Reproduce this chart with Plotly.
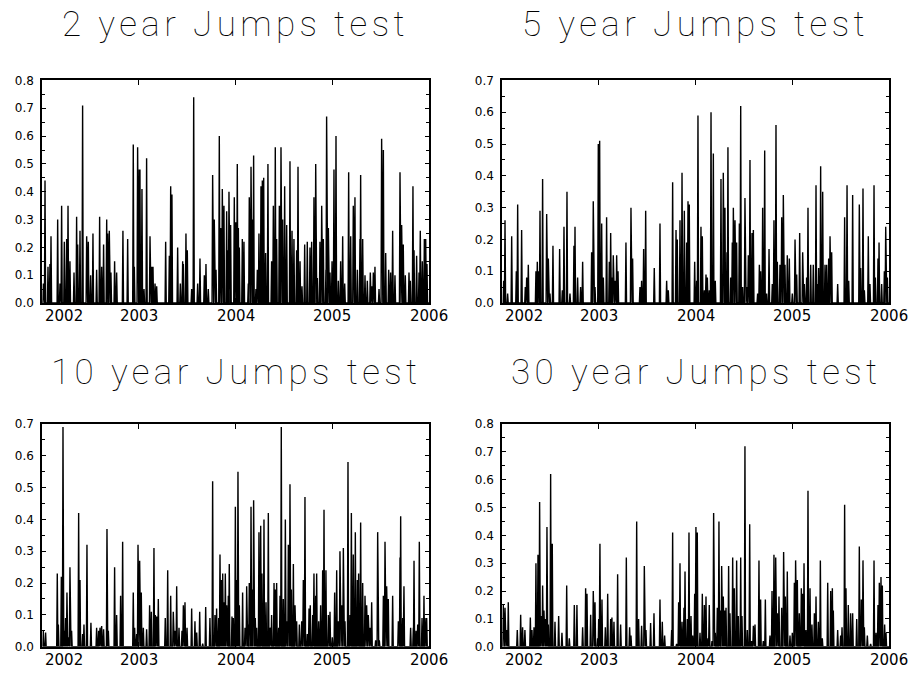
import plotly.graph_objects as go

# ---------------- data (decimal years, jump statistic) ----------------
titles = ["2 year Jumps test", "5 year Jumps test", "10 year Jumps test", "30 year Jumps test"]
y_max = [0.8, 0.7, 0.7, 0.8]
years = [2002, 2003, 2004, 2005, 2006]
year_labels = ["2002", "2003", "2004", "2005", "2006"]

t_2y = [2002.010, 2002.028, 2002.059, 2002.079, 2002.090, 2002.159, 2002.183, 2002.200, 2002.228, 2002.252,
        2002.266, 2002.286, 2002.328, 2002.355, 2002.366, 2002.390, 2002.417, 2002.459, 2002.476, 2002.500,
        2002.524, 2002.562, 2002.593, 2002.614, 2002.634, 2002.666, 2002.676, 2002.693, 2002.710, 2002.748,
        2002.769, 2002.834, 2002.883, 2002.941, 2002.952, 2002.986, 2003.003, 2003.010, 2003.031, 2003.052,
        2003.079, 2003.114, 2003.131, 2003.145, 2003.166, 2003.183, 2003.276, 2003.314, 2003.328, 2003.341,
        2003.400, 2003.428, 2003.452, 2003.459, 2003.486, 2003.500, 2003.545, 2003.566, 2003.607, 2003.631,
        2003.676, 2003.693, 2003.717, 2003.762, 2003.779, 2003.797, 2003.831, 2003.845, 2003.862, 2003.879,
        2003.907, 2003.921, 2003.931, 2003.948, 2003.986, 2004.000, 2004.017, 2004.028, 2004.038, 2004.069,
        2004.086, 2004.131, 2004.141, 2004.159, 2004.176, 2004.186, 2004.210, 2004.224, 2004.241, 2004.262,
        2004.276, 2004.290, 2004.310, 2004.334, 2004.372, 2004.390, 2004.410, 2004.424, 2004.452, 2004.469,
        2004.486, 2004.507, 2004.528, 2004.562, 2004.583, 2004.603, 2004.631, 2004.645, 2004.666, 2004.686,
        2004.714, 2004.741, 2004.769, 2004.786, 2004.810, 2004.828, 2004.845, 2004.872, 2004.890, 2004.907,
        2004.934, 2004.941, 2004.959, 2004.976, 2004.997, 2005.017, 2005.038, 2005.062, 2005.086, 2005.107,
        2005.128, 2005.169, 2005.190, 2005.217, 2005.234, 2005.259, 2005.286, 2005.293, 2005.314, 2005.338,
        2005.362, 2005.393, 2005.407, 2005.424, 2005.441, 2005.483, 2005.510, 2005.528, 2005.552, 2005.583,
        2005.603, 2005.624, 2005.648, 2005.700, 2005.717, 2005.734, 2005.755, 2005.793, 2005.807, 2005.834,
        2005.845, 2005.872, 2005.897, 2005.910, 2005.931, 2005.952, 2005.966, 2005.979]
v_2y = [0.07, 0.44, 0.13, 0.14, 0.24, 0.30, 0.07, 0.35, 0.22, 0.23,
        0.35, 0.15, 0.11, 0.31, 0.21, 0.26, 0.71, 0.24, 0.22, 0.10,
        0.25, 0.12, 0.31, 0.13, 0.21, 0.30, 0.25, 0.26, 0.11, 0.15,
        0.11, 0.26, 0.23, 0.57, 0.13, 0.56, 0.48, 0.48, 0.41, 0.05,
        0.52, 0.24, 0.13, 0.13, 0.07, 0.06, 0.22, 0.17, 0.42, 0.39,
        0.20, 0.07, 0.15, 0.14, 0.25, 0.19, 0.05, 0.74, 0.07, 0.16,
        0.10, 0.14, 0.05, 0.46, 0.30, 0.12, 0.60, 0.27, 0.41, 0.35,
        0.33, 0.19, 0.40, 0.28, 0.38, 0.29, 0.50, 0.27, 0.20, 0.23,
        0.22, 0.07, 0.38, 0.49, 0.30, 0.53, 0.05, 0.12, 0.25, 0.42,
        0.44, 0.45, 0.18, 0.50, 0.15, 0.35, 0.56, 0.23, 0.35, 0.56,
        0.30, 0.42, 0.28, 0.51, 0.26, 0.23, 0.19, 0.49, 0.15, 0.06,
        0.21, 0.22, 0.20, 0.22, 0.38, 0.50, 0.09, 0.22, 0.35, 0.23,
        0.12, 0.67, 0.27, 0.11, 0.15, 0.48, 0.60, 0.08, 0.15, 0.24,
        0.07, 0.47, 0.24, 0.35, 0.38, 0.12, 0.23, 0.46, 0.23, 0.10,
        0.08, 0.11, 0.06, 0.11, 0.13, 0.05, 0.59, 0.55, 0.18, 0.12,
        0.11, 0.26, 0.10, 0.47, 0.28, 0.21, 0.10, 0.11, 0.08, 0.42,
        0.19, 0.17, 0.11, 0.26, 0.15, 0.23, 0.23, 0.14]

t_5y = [2002.014, 2002.028, 2002.055, 2002.097, 2002.145, 2002.159, 2002.200, 2002.238, 2002.252, 2002.269,
        2002.348, 2002.362, 2002.372, 2002.390, 2002.417, 2002.459, 2002.476, 2002.493, 2002.524, 2002.593,
        2002.621, 2002.638, 2002.669, 2002.700, 2002.741, 2002.752, 2002.779, 2002.810, 2002.831, 2002.924,
        2002.941, 2002.959, 2002.993, 2003.007, 2003.028, 2003.045, 2003.079, 2003.107, 2003.121, 2003.134,
        2003.148, 2003.166, 2003.183, 2003.197, 2003.279, 2003.331, 2003.348, 2003.424, 2003.441, 2003.462,
        2003.483, 2003.572, 2003.631, 2003.700, 2003.717, 2003.762, 2003.797, 2003.810, 2003.838, 2003.859,
        2003.872, 2003.883, 2003.907, 2003.921, 2003.934, 2003.990, 2004.010, 2004.024, 2004.055, 2004.069,
        2004.090, 2004.107, 2004.121, 2004.141, 2004.159, 2004.183, 2004.203, 2004.262, 2004.286, 2004.303,
        2004.324, 2004.334, 2004.362, 2004.379, 2004.390, 2004.407, 2004.424, 2004.452, 2004.466, 2004.486,
        2004.510, 2004.528, 2004.545, 2004.562, 2004.583, 2004.597, 2004.641, 2004.659, 2004.672, 2004.693,
        2004.714, 2004.734, 2004.759, 2004.793, 2004.810, 2004.831, 2004.845, 2004.872, 2004.890, 2004.907,
        2004.924, 2004.948, 2004.969, 2005.000, 2005.028, 2005.045, 2005.076, 2005.107, 2005.124, 2005.148,
        2005.162, 2005.190, 2005.217, 2005.245, 2005.259, 2005.272, 2005.293, 2005.314, 2005.338, 2005.355,
        2005.376, 2005.390, 2005.407, 2005.469, 2005.541, 2005.566, 2005.583, 2005.624, 2005.693, 2005.707,
        2005.731, 2005.745, 2005.786, 2005.803, 2005.845, 2005.859, 2005.886, 2005.897, 2005.924, 2005.952,
        2005.966, 2005.983]
v_5y = [0.07, 0.26, 0.03, 0.21, 0.10, 0.31, 0.23, 0.05, 0.08, 0.12,
        0.10, 0.13, 0.10, 0.29, 0.39, 0.28, 0.14, 0.03, 0.18, 0.17,
        0.04, 0.24, 0.35, 0.03, 0.18, 0.24, 0.08, 0.05, 0.13, 0.16,
        0.32, 0.05, 0.50, 0.51, 0.25, 0.08, 0.27, 0.13, 0.22, 0.08,
        0.15, 0.07, 0.15, 0.10, 0.19, 0.30, 0.14, 0.05, 0.07, 0.17,
        0.29, 0.11, 0.25, 0.07, 0.04, 0.38, 0.23, 0.20, 0.26, 0.41,
        0.08, 0.29, 0.19, 0.32, 0.31, 0.13, 0.07, 0.59, 0.24, 0.21,
        0.04, 0.09, 0.08, 0.04, 0.60, 0.47, 0.07, 0.39, 0.41, 0.30,
        0.16, 0.49, 0.08, 0.19, 0.30, 0.26, 0.19, 0.25, 0.62, 0.05,
        0.33, 0.05, 0.15, 0.45, 0.22, 0.23, 0.03, 0.12, 0.10, 0.30,
        0.48, 0.03, 0.17, 0.06, 0.26, 0.56, 0.13, 0.12, 0.27, 0.34,
        0.12, 0.15, 0.14, 0.03, 0.20, 0.09, 0.22, 0.16, 0.06, 0.08,
        0.30, 0.12, 0.12, 0.37, 0.06, 0.11, 0.43, 0.35, 0.12, 0.12,
        0.14, 0.21, 0.16, 0.06, 0.27, 0.37, 0.07, 0.34, 0.31, 0.11,
        0.36, 0.04, 0.21, 0.06, 0.37, 0.08, 0.14, 0.19, 0.06, 0.10,
        0.24, 0.08]

t_10y = [2002.010, 2002.034, 2002.155, 2002.166, 2002.197, 2002.214, 2002.228, 2002.241, 2002.255, 2002.269,
         2002.286, 2002.303, 2002.376, 2002.390, 2002.417, 2002.431, 2002.462, 2002.503, 2002.562, 2002.583,
         2002.597, 2002.614, 2002.634, 2002.669, 2002.683, 2002.748, 2002.769, 2002.810, 2002.831, 2002.941,
         2002.955, 2002.976, 2002.990, 2003.007, 2003.024, 2003.045, 2003.079, 2003.110, 2003.128, 2003.155,
         2003.169, 2003.183, 2003.200, 2003.272, 2003.297, 2003.328, 2003.355, 2003.372, 2003.390, 2003.414,
         2003.445, 2003.459, 2003.476, 2003.497, 2003.545, 2003.579, 2003.597, 2003.628, 2003.659, 2003.690,
         2003.734, 2003.762, 2003.786, 2003.803, 2003.824, 2003.838, 2003.852, 2003.866, 2003.879, 2003.893,
         2003.907, 2003.924, 2003.934, 2003.962, 2003.976, 2003.997, 2004.007, 2004.024, 2004.038, 2004.072,
         2004.097, 2004.114, 2004.131, 2004.141, 2004.159, 2004.172, 2004.186, 2004.203, 2004.217, 2004.241,
         2004.259, 2004.272, 2004.293, 2004.314, 2004.338, 2004.355, 2004.372, 2004.397, 2004.410, 2004.424,
         2004.445, 2004.459, 2004.472, 2004.493, 2004.514, 2004.528, 2004.545, 2004.562, 2004.576, 2004.597,
         2004.614, 2004.631, 2004.659, 2004.683, 2004.700, 2004.717, 2004.741, 2004.759, 2004.772, 2004.797,
         2004.810, 2004.828, 2004.838, 2004.859, 2004.879, 2004.900, 2004.914, 2004.934, 2004.959, 2004.976,
         2005.000, 2005.024, 2005.045, 2005.062, 2005.079, 2005.097, 2005.114, 2005.131, 2005.162, 2005.183,
         2005.197, 2005.217, 2005.238, 2005.259, 2005.272, 2005.293, 2005.314, 2005.338, 2005.355, 2005.372,
         2005.390, 2005.407, 2005.448, 2005.469, 2005.486, 2005.528, 2005.545, 2005.562, 2005.579, 2005.624,
         2005.683, 2005.700, 2005.707, 2005.728, 2005.741, 2005.810, 2005.838, 2005.845, 2005.866, 2005.883,
         2005.900, 2005.928, 2005.948, 2005.959, 2005.976]
v_10y = [0.05, 0.045, 0.23, 0.07, 0.22, 0.69, 0.05, 0.09, 0.17, 0.03,
         0.25, 0.05, 0.42, 0.21, 0.04, 0.07, 0.32, 0.075, 0.06, 0.05,
         0.06, 0.065, 0.055, 0.37, 0.05, 0.25, 0.10, 0.16, 0.33, 0.17,
         0.06, 0.04, 0.32, 0.27, 0.17, 0.06, 0.055, 0.13, 0.11, 0.31,
         0.10, 0.095, 0.15, 0.09, 0.24, 0.16, 0.11, 0.05, 0.19, 0.06,
         0.05, 0.13, 0.14, 0.06, 0.12, 0.08, 0.045, 0.11, 0.01, 0.125,
         0.09, 0.52, 0.10, 0.12, 0.09, 0.29, 0.21, 0.23, 0.14, 0.23,
         0.13, 0.16, 0.26, 0.095, 0.09, 0.44, 0.21, 0.55, 0.13, 0.17,
         0.06, 0.19, 0.07, 0.20, 0.44, 0.18, 0.46, 0.09, 0.06, 0.36,
         0.38, 0.23, 0.40, 0.14, 0.42, 0.06, 0.10, 0.20, 0.18, 0.20,
         0.06, 0.16, 0.69, 0.15, 0.40, 0.08, 0.32, 0.51, 0.18, 0.26,
         0.13, 0.08, 0.07, 0.08, 0.21, 0.47, 0.04, 0.12, 0.13, 0.10,
         0.23, 0.16, 0.23, 0.08, 0.13, 0.24, 0.43, 0.24, 0.10, 0.11,
         0.03, 0.17, 0.24, 0.08, 0.30, 0.13, 0.31, 0.08, 0.58, 0.10,
         0.42, 0.29, 0.36, 0.21, 0.23, 0.39, 0.20, 0.16, 0.13, 0.10,
         0.06, 0.14, 0.02, 0.36, 0.02, 0.16, 0.33, 0.19, 0.15, 0.16,
         0.08, 0.28, 0.41, 0.09, 0.19, 0.06, 0.06, 0.27, 0.05, 0.07,
         0.33, 0.09, 0.16, 0.09, 0.09]

t_30y = [2002.010, 2002.028, 2002.045, 2002.062, 2002.155, 2002.190, 2002.210, 2002.234, 2002.290, 2002.307,
         2002.328, 2002.348, 2002.369, 2002.386, 2002.400, 2002.417, 2002.431, 2002.448, 2002.462, 2002.476,
         2002.500, 2002.517, 2002.545, 2002.583, 2002.617, 2002.666, 2002.693, 2002.745, 2002.772, 2002.831,
         2002.862, 2002.876, 2002.914, 2002.941, 2002.959, 2002.986, 2002.997, 2003.010, 2003.031, 2003.066,
         2003.090, 2003.121, 2003.134, 2003.155, 2003.193, 2003.224, 2003.283, 2003.317, 2003.331, 2003.390,
         2003.410, 2003.441, 2003.469, 2003.486, 2003.534, 2003.569, 2003.631, 2003.655, 2003.679, 2003.752,
         2003.762, 2003.803, 2003.824, 2003.838, 2003.859, 2003.879, 2003.890, 2003.914, 2003.931, 2003.952,
         2003.969, 2003.990, 2004.003, 2004.017, 2004.045, 2004.069, 2004.090, 2004.107, 2004.128, 2004.141,
         2004.169, 2004.186, 2004.203, 2004.224, 2004.241, 2004.252, 2004.269, 2004.286, 2004.300, 2004.314,
         2004.341, 2004.355, 2004.383, 2004.400, 2004.424, 2004.441, 2004.466, 2004.479, 2004.510, 2004.534,
         2004.559, 2004.579, 2004.597, 2004.614, 2004.655, 2004.672, 2004.700, 2004.721, 2004.769, 2004.790,
         2004.810, 2004.828, 2004.845, 2004.862, 2004.890, 2004.910, 2004.928, 2004.948, 2004.976, 2005.000,
         2005.021, 2005.034, 2005.052, 2005.072, 2005.093, 2005.107, 2005.121, 2005.141, 2005.162, 2005.183,
         2005.203, 2005.228, 2005.245, 2005.269, 2005.290, 2005.310, 2005.366, 2005.397, 2005.414, 2005.424,
         2005.469, 2005.500, 2005.514, 2005.541, 2005.555, 2005.579, 2005.603, 2005.624, 2005.666, 2005.693,
         2005.714, 2005.731, 2005.745, 2005.776, 2005.810, 2005.845, 2005.866, 2005.886, 2005.900, 2005.917,
         2005.931, 2005.955, 2005.969]
v_30y = [0.15, 0.14, 0.06, 0.16, 0.06, 0.115, 0.07, 0.06, 0.105, 0.06,
         0.07, 0.30, 0.33, 0.52, 0.11, 0.22, 0.13, 0.10, 0.43, 0.08,
         0.62, 0.37, 0.09, 0.11, 0.05, 0.22, 0.03, 0.15, 0.15, 0.07,
         0.21, 0.19, 0.115, 0.20, 0.16, 0.03, 0.10, 0.37, 0.17, 0.07,
         0.19, 0.10, 0.105, 0.09, 0.26, 0.08, 0.32, 0.07, 0.04, 0.45,
         0.10, 0.075, 0.29, 0.06, 0.085, 0.12, 0.17, 0.09, 0.04, 0.06,
         0.41, 0.01, 0.16, 0.30, 0.09, 0.14, 0.27, 0.10, 0.41, 0.11,
         0.04, 0.19, 0.43, 0.41, 0.05, 0.19, 0.15, 0.18, 0.03, 0.15,
         0.02, 0.48, 0.05, 0.14, 0.45, 0.13, 0.29, 0.18, 0.13, 0.14,
         0.29, 0.12, 0.32, 0.21, 0.31, 0.11, 0.32, 0.11, 0.72, 0.06,
         0.44, 0.02, 0.075, 0.08, 0.31, 0.17, 0.02, 0.17, 0.04, 0.20,
         0.33, 0.32, 0.12, 0.18, 0.14, 0.34, 0.18, 0.27, 0.04, 0.05,
         0.23, 0.31, 0.24, 0.12, 0.21, 0.19, 0.30, 0.06, 0.56, 0.21,
         0.08, 0.12, 0.18, 0.09, 0.31, 0.03, 0.23, 0.20, 0.21, 0.13,
         0.06, 0.04, 0.07, 0.51, 0.21, 0.15, 0.12, 0.12, 0.10, 0.36,
         0.17, 0.31, 0.07, 0.04, 0.01, 0.31, 0.05, 0.15, 0.23, 0.25,
         0.22, 0.08, 0.05]

series = [(t_2y, v_2y), (t_5y, v_5y), (t_10y, v_10y), (t_30y, v_30y)]

# ---------------- layout geometry ----------------
W, H = 911, 675
x_dom = [[42.3 / W, 429.0 / W], [502.3 / W, 889.0 / W]]
y_dom = [[1 - 302.3 / H, 1 - 75.0 / H], [1 - 653.3 / H, 1 - 425.7 / H]]
title_base_px = [35.0, 390.0]

fig = go.Figure()
HW = 0.006  # half-width of each spike, years

for i, ((ts, vs), title, ym) in enumerate(zip(series, titles, y_max)):
    row, col = divmod(i, 2)
    ax = "" if i == 0 else str(i + 1)
    pairs = sorted(zip(ts, vs))
    xs, ys = [years[0]], [0.0]
    for t, v in pairs:
        xs += [t - HW, t, t + HW]
        ys += [0.0, v, 0.0]
    xs.append(years[-1]); ys.append(0.0)
    fig.add_trace(go.Scatter(x=xs, y=ys, mode="lines",
                             line=dict(color="black", width=1.4),
                             xaxis="x" + ax, yaxis="y" + ax,
                             showlegend=False, hoverinfo="skip"))
    fig.layout["xaxis" + ax] = dict(
        domain=x_dom[col], range=[years[0], years[-1]], anchor="y" + ax,
        showline=True, linecolor="black", linewidth=2, mirror="ticks",
        ticks="inside", ticklen=5, tickcolor="black", tickwidth=1,
        tickvals=years, showticklabels=False, showgrid=False, zeroline=False)
    fig.layout["yaxis" + ax] = dict(
        domain=y_dom[row], range=[0, ym], anchor="x" + ax,
        showline=True, linecolor="black", linewidth=2, mirror="ticks",
        ticks="inside", ticklen=4, tickcolor="black", tickwidth=1,
        dtick=0.1, tick0=0, tickformat=".1f",
        minor=dict(dtick=0.05, ticks="inside", ticklen=3, tickcolor="black"),
        tickfont=dict(family="DejaVu Sans", size=12, color="black"),
        ticklabelstandoff=4,
        showgrid=False, zeroline=False)
    for yv, lab in zip(years, year_labels):
        first = yv == years[0]
        fig.add_annotation(x=yv, y=0, xref="x" + ax, yref="y" + ax + " domain",
                           text=lab, showarrow=False,
                           xanchor="left" if first else "center", yanchor="top",
                           xshift=1 if first else 0, yshift=-2,
                           font=dict(family="DejaVu Sans", size=15, color="black"))
    fig.add_annotation(x=sum(x_dom[col]) / 2, y=1 - title_base_px[row] / H,
                       xref="paper", yref="paper",
                       text='<span style="letter-spacing:4.4px">' + title + '</span>',
                       showarrow=False,
                       xanchor="center", yanchor="bottom", yshift=-6,
                       font=dict(family="Roboto", size=35, color="black", weight=100))

fig.update_layout(width=W, height=H, margin=dict(l=0, r=0, t=0, b=0),
                  paper_bgcolor="white", plot_bgcolor="white")
fig.write_html("out.html", config={"displayModeBar": False},
               post_script="document.body.style.margin='0';document.body.style.padding='0';")
